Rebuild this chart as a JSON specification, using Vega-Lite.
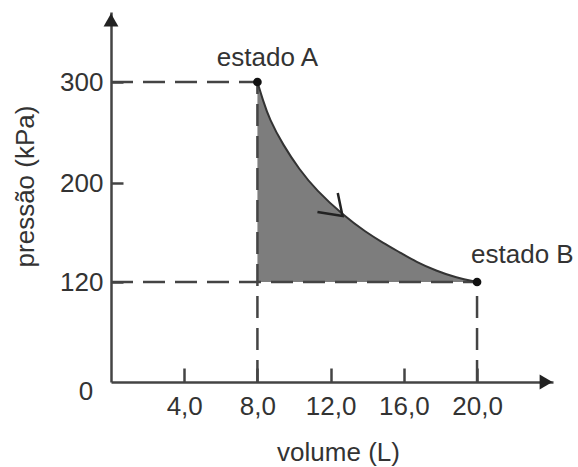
{
  "$schema": "https://vega.github.io/schema/vega-lite/v6.json",
  "width": 442,
  "height": 370,
  "autosize": {"type": "none"},
  "padding": {"left": 111, "top": 12, "right": 25, "bottom": 85},
  "background": "white",
  "config": {"view": {"stroke": null}, "font": "Liberation Sans"},
  "datasets": {
    "curve": [
      {"volume": 8, "pressao": 300},
      {"volume": 8.3, "pressao": 282},
      {"volume": 8.66, "pressao": 263},
      {"volume": 9.39, "pressao": 238},
      {"volume": 10.3, "pressao": 213},
      {"volume": 11.21, "pressao": 194.3},
      {"volume": 12.67, "pressao": 174.1},
      {"volume": 13.95, "pressao": 160},
      {"volume": 14.85, "pressao": 151.8},
      {"volume": 15.77, "pressao": 144},
      {"volume": 16.68, "pressao": 136.2},
      {"volume": 17.77, "pressao": 129},
      {"volume": 18.86, "pressao": 123.4},
      {"volume": 20, "pressao": 120}
    ],
    "states": [
      {"estado": "estado A", "volume": 8, "pressao": 300},
      {"estado": "estado B", "volume": 20, "pressao": 120}
    ],
    "guides": [
      {"volume": 0, "pressao": 300, "volume2": 8, "pressao2": 300},
      {"volume": 0, "pressao": 120, "volume2": 20, "pressao2": 120},
      {"volume": 8, "pressao": 0, "volume2": 8, "pressao2": 300},
      {"volume": 20, "pressao": 0, "volume2": 20, "pressao2": 120}
    ],
    "seta": [
      {"volume": 11.28, "pressao": 176.6, "ordem": 1},
      {"volume": 12.65, "pressao": 173.3, "ordem": 2},
      {"volume": 12.39, "pressao": 191.9, "ordem": 3}
    ]
  },
  "layer": [
    {
      "data": {"name": "curve"},
      "mark": {"type": "area", "color": "#7d7d7d", "opacity": 1, "interpolate": "basis"},
      "encoding": {
        "x": {
          "field": "volume", "type": "quantitative",
          "scale": {"domain": [0, 24.15], "nice": false, "zero": false},
          "axis": {
            "values": [4, 8, 12, 16, 20],
            "labelExpr": "replace(format(datum.value, '.1f'), '.', ',')",
            "labelFontSize": 26, "labelColor": "#333", "labelPadding": 25,
            "labelFont": "Liberation Sans",
            "ticks": true, "tickSize": -14, "tickColor": "#444", "tickWidth": 2.5,
            "domainColor": "#444", "domainWidth": 2.5, "grid": false,
            "title": "volume (L)", "titleFontSize": 26, "titleFontWeight": "normal",
            "titleColor": "#333", "titleFont": "Liberation Sans",
            "titleX": 227, "titleY": 70, "titleBaseline": "middle", "titleAlign": "center"
          }
        },
        "y": {
          "field": "pressao", "type": "quantitative",
          "scale": {"domain": [0, 120, 200, 300, 370], "range": [370, 270, 171, 70, 0], "nice": false, "zero": false},
          "axis": {
            "values": [120, 200, 300],
            "labelFontSize": 26, "labelColor": "#333", "labelPadding": 20,
            "labelFont": "Liberation Sans",
            "ticks": true, "tickSize": -12, "tickColor": "#444", "tickWidth": 2.5,
            "domainColor": "#444", "domainWidth": 2.5, "grid": false,
            "title": "pressão (kPa)", "titleFontSize": 26, "titleFontWeight": "normal",
            "titleColor": "#333", "titleFont": "Liberation Sans",
            "titleX": -86, "titleY": 174, "titleAngle": -90,
            "titleBaseline": "middle", "titleAlign": "center"
          }
        },
        "y2": {"datum": 120}
      }
    },
    {
      "data": {"name": "guides"},
      "mark": {"type": "rule", "color": "#444", "strokeWidth": 2.5, "strokeDash": [22, 10]},
      "encoding": {
        "x": {"field": "volume", "type": "quantitative"},
        "y": {"field": "pressao", "type": "quantitative"},
        "x2": {"field": "volume2"},
        "y2": {"field": "pressao2"}
      }
    },
    {
      "data": {"name": "curve"},
      "mark": {"type": "line", "color": "#333", "strokeWidth": 2, "interpolate": "basis"},
      "encoding": {
        "x": {"field": "volume", "type": "quantitative"},
        "y": {"field": "pressao", "type": "quantitative"}
      }
    },
    {
      "data": {"name": "seta"},
      "mark": {"type": "line", "color": "#222", "strokeWidth": 2.5},
      "encoding": {
        "x": {"field": "volume", "type": "quantitative"},
        "y": {"field": "pressao", "type": "quantitative"},
        "order": {"field": "ordem"}
      }
    },
    {
      "data": {"values": [{}]},
      "mark": {"type": "point", "shape": "triangle-right", "filled": true, "color": "#222", "size": 220, "opacity": 1},
      "encoding": {
        "x": {"datum": 23.77, "type": "quantitative"},
        "y": {"datum": 0, "type": "quantitative"}
      }
    },
    {
      "data": {"values": [{}]},
      "mark": {"type": "point", "shape": "triangle-up", "filled": true, "color": "#222", "size": 220, "opacity": 1},
      "encoding": {
        "x": {"datum": 0, "type": "quantitative"},
        "y": {"datum": 362, "type": "quantitative"}
      }
    },
    {
      "data": {"values": [{}]},
      "mark": {"type": "text", "text": "0", "fontSize": 26, "color": "#333", "dx": -25, "dy": 10, "font": "Liberation Sans"},
      "encoding": {
        "x": {"datum": 0, "type": "quantitative"},
        "y": {"datum": 0, "type": "quantitative"}
      }
    },
    {
      "data": {"name": "states"},
      "mark": {"type": "point", "shape": "circle", "filled": true, "color": "#111", "size": 75, "opacity": 1},
      "encoding": {
        "x": {"field": "volume", "type": "quantitative"},
        "y": {"field": "pressao", "type": "quantitative"}
      }
    },
    {
      "data": {"name": "states"},
      "transform": [{"filter": "datum.estado == 'estado A'"}],
      "mark": {"type": "text", "fontSize": 26, "color": "#333", "dx": 10, "dy": -24, "align": "center", "baseline": "middle", "font": "Liberation Sans"},
      "encoding": {
        "x": {"field": "volume", "type": "quantitative"},
        "y": {"field": "pressao", "type": "quantitative"},
        "text": {"field": "estado"}
      }
    },
    {
      "data": {"name": "states"},
      "transform": [{"filter": "datum.estado == 'estado B'"}],
      "mark": {"type": "text", "fontSize": 26, "color": "#333", "dx": -6, "dy": -27, "align": "left", "baseline": "middle", "font": "Liberation Sans"},
      "encoding": {
        "x": {"field": "volume", "type": "quantitative"},
        "y": {"field": "pressao", "type": "quantitative"},
        "text": {"field": "estado"}
      }
    }
  ]
}
